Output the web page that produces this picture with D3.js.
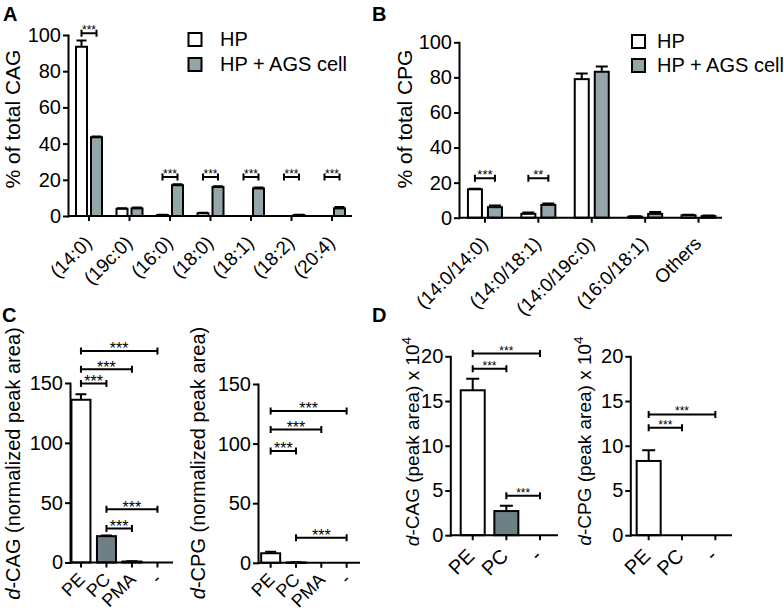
<!DOCTYPE html>
<html><head><meta charset="utf-8">
<script src="https://cdn.jsdelivr.net/npm/d3@7"></script>
<style>
body{margin:0;background:#fff}
svg text{font-family:"Liberation Sans",Arial,Helvetica,sans-serif;fill:#000}
</style>
</head><body><script>
// ---------------- DATA ----------------
const seriesNames = ["HP", "HP + AGS cell"];

// Panel A: % of total CAG
const catsA = ["(14:0)","(19c:0)","(16:0)","(18:0)","(18:1)","(18:2)","(20:4)"];
const hpA     = [93.5, 4.0, 0.5, 1.5, 0, 0, 0];
const hpAErr  = [3.5, 0.3, 0.2, 0.3, 0, 0, 0];
const agsA    = [43.5, 4.2, 17.0, 16.0, 15.2, 0.5, 4.2];
const agsAErr = [0.4, 0.5, 0.5, 0.4, 0.5, 0.2, 0.8];
const sigA    = ["***", "", "***", "***", "***", "***", "***"];
const sigAY   = [101, 0, 21.5, 21.5, 21.5, 21.5, 21.5];
const ticksA  = [0, 20, 40, 60, 80, 100];

// Panel B: % of total CPG
const catsB = ["(14:0/14:0)","(14:0/18:1)","(14:0/19c:0)","(16:0/18:1)","Others"];
const hpB     = [16.2, 2.2, 79.0, 0.6, 1.4];
const hpBErr  = [0.3, 0.7, 3.2, 0.2, 0.3];
const agsB    = [6.0, 7.3, 83.2, 2.2, 0.9];
const agsBErr = [1.0, 0.8, 3.0, 1.0, 0.3];
const sigB    = ["***", "**", "", "", ""];
const sigBY   = [22.5, 22.5, 0, 0, 0];
const ticksB  = [0, 20, 40, 60, 80, 100];

// Panel C: normalized peak area
const catsC   = ["PE", "PC", "PMA", "-"];
const cagC    = [136, 22, 0.8, 0];
const cagCErr = [4.5, 0.5, 0.2, 0];
const cpgC    = [8.0, 0.3, 0, 0];
const cpgCErr = [1.3, 0.1, 0, 0];
const sigCagC = [["PE","PC",149.5,"***"],["PE","PMA",161.5,"***"],["PE","-",176.8,"***"],["PC","PMA",28.5,"***"],["PC","-",44.4,"***"]];
const sigCpgC = [["PE","PC",93.8,"***"],["PE","PMA",111.8,"***"],["PE","-",127.4,"***"],["PC","-",21,"***"]];
const ticksC  = [0, 50, 100, 150];

// Panel D: peak area x 10^4
const catsD   = ["PE", "PC", "-"];
const cagD    = [16.2, 2.7, 0];
const cagDErr = [1.3, 0.6, 0];
const cpgD    = [8.3, 0, 0];
const cpgDErr = [1.2, 0, 0];
const sigCagD = [["PE","PC",18.6,"***"],["PE","-",20.3,"***"],["PC","-",4.4,"***"]];
const sigCpgD = [["PE","PC",12,"***"],["PE","-",13.5,"***"]];
const ticksD  = [0, 5, 10, 15, 20];

// ---------------- STYLE ----------------
const GRAY_AB = "#95a6aa";
const GRAY_CD = "#6e8085";
const SW = 2;

const svg = d3.select("body").append("svg").attr("width", 784).attr("height", 610);

function drawPanel(p) {
  const g = svg.append("g");
  const x = d3.scaleBand().domain(p.cats).range(p.band);
  const y = d3.scaleLinear().domain([0, p.ymax]).range([p.y0, p.yTop]);
  const cx = c => x(c) + x.bandwidth() / 2;

  // bars
  p.series.forEach(s => {
    const rows = p.cats.map((c, i) => ({c, v: s.vals[i], e: s.errs[i],
      fill: Array.isArray(s.fill) ? s.fill[i] : s.fill}));
    g.selectAll(null).data(rows.filter(d => d.v > 0)).enter().append("rect")
      .attr("x", d => cx(d.c) + s.off - p.barW / 2)
      .attr("y", d => y(d.v))
      .attr("width", p.barW)
      .attr("height", d => y(0) - y(d.v))
      .attr("fill", d => d.fill).attr("stroke", "#000").attr("stroke-width", SW);
    const er = rows.filter(d => d.e > 0);
    g.selectAll(null).data(er).enter().append("path")
      .attr("d", d => {
        const xx = cx(d.c) + s.off, y1 = y(d.v), y2 = y(d.v + d.e), hw = p.capW / 2;
        return `M${xx},${y1}V${y2}M${xx - hw},${y2}H${xx + hw}`;
      })
      .attr("stroke", "#000").attr("stroke-width", SW).attr("fill", "none");
  });

  // y axis
  const yg = g.append("g").attr("transform", `translate(${p.axisX},0)`)
    .call(d3.axisLeft(y).tickValues(p.ticks).tickSize(5).tickSizeOuter(0).tickPadding(2));
  yg.select(".domain").attr("stroke-width", SW).attr("stroke-linecap", "square");
  yg.selectAll(".tick line").attr("stroke-width", SW);
  yg.selectAll(".tick text").style("font-size", p.tickFont + "px").attr("font-family", null);

  // x axis
  const xg = g.append("g").attr("transform", `translate(0,${p.y0})`)
    .call(d3.axisBottom(x).tickSize(5).tickSizeOuter(0));
  xg.select(".domain").remove();
  xg.selectAll(".tick line").attr("stroke-width", SW);
  xg.selectAll(".tick text").attr("y", 0).attr("dy", 0)
    .attr("transform", `translate(${p.lx},${p.ly}) rotate(-45)`)
    .style("text-anchor", "end").style("font-size", p.xFont + "px");
  g.append("line").attr("x1", p.axisX).attr("x2", p.axisEnd)
    .attr("y1", p.y0).attr("y2", p.y0).attr("stroke", "#000").attr("stroke-width", SW);

  // significance brackets
  p.brackets.forEach(b => {
    const x1 = b.x1(cx), x2 = b.x2(cx), yy = y(b.y);
    g.append("path")
      .attr("d", `M${x1},${yy - 3.5}V${yy + 3.5}M${x1},${yy}H${x2}M${x2},${yy - 3.5}V${yy + 3.5}`)
      .attr("stroke", "#000").attr("stroke-width", SW).attr("fill", "none");
    g.append("text").attr("x", (x1 + x2) / 2).attr("y", yy + p.starDy)
      .attr("text-anchor", "middle").style("font-size", p.starFont + "px").text(b.label);
  });

  // y label
  const t = g.append("text").attr("transform", `translate(${p.ylx},${p.yly}) rotate(-90)`)
    .attr("text-anchor", "middle").style("font-size", p.ylFont + "px");
  p.ylabel.forEach(part => {
    const ts = t.append("tspan").text(part.t);
    if (part.it) ts.style("font-style", "italic");
    if (part.sup) ts.attr("dy", "-0.6em").style("font-size", "0.72em");
  });
  return {x, y};
}

function groupedBrackets(cats, sig, sigY, off) {
  return cats.map((c, i) => ({label: sig[i], y: sigY[i],
    x1: cx => cx(c) - off, x2: cx => cx(c) + off})).filter(b => b.label);
}
function pairBrackets(list) {
  return list.map(([a, b, yv, lab]) => ({label: lab, y: yv, x1: cx => cx(a), x2: cx => cx(b)}));
}

// Panel A
drawPanel({
  cats: catsA, band: [68.75, 352.25], axisX: 68, axisEnd: 352, y0: 216, yTop: 35, ymax: 100,
  ticks: ticksA, barW: 11, capW: 10, tickFont: 20, xFont: 19, lx: 4, ly: 28,
  series: [{vals: hpA, errs: hpAErr, fill: "#fff", off: -7.5},
           {vals: agsA, errs: agsAErr, fill: GRAY_AB, off: 7.5}],
  brackets: groupedBrackets(catsA, sigA, sigAY, 7.5), starFont: 12, starDy: 1,
  ylabel: [{t: "% of total CAG"}], ylx: 20, yly: 119, ylFont: 21
});

// Panel B
drawPanel({
  cats: catsB, band: [458.25, 725.25], axisX: 459, axisEnd: 722, y0: 217.7, yTop: 42.3, ymax: 100,
  ticks: ticksB, barW: 14, capW: 12, tickFont: 20, xFont: 19, lx: 4, ly: 27,
  series: [{vals: hpB, errs: hpBErr, fill: "#fff", off: -10},
           {vals: agsB, errs: agsBErr, fill: GRAY_AB, off: 10}],
  brackets: groupedBrackets(catsB, sigB, sigBY, 10), starFont: 13, starDy: 1,
  ylabel: [{t: "% of total CPG"}], ylx: 412, yly: 119, ylFont: 21
});

// Panel C left
drawPanel({
  cats: catsC, band: [68.2, 170.2], axisX: 70, axisEnd: 173, y0: 562.5, yTop: 383, ymax: 150,
  ticks: ticksC, barW: 19, capW: 11, tickFont: 20, xFont: 18, lx: 5, ly: 18,
  series: [{vals: cagC, errs: cagCErr, fill: ["#fff", GRAY_CD, GRAY_CD, GRAY_CD], off: 0}],
  brackets: pairBrackets(sigCagC), starFont: 16, starDy: 3.5,
  ylabel: [{t: "d", it: true}, {t: "-CAG (normalized peak area)"}], ylx: 20, yly: 463.5, ylFont: 20
});

// Panel C right
drawPanel({
  cats: catsC, band: [258, 359.3], axisX: 258, axisEnd: 360, y0: 562.8, yTop: 384, ymax: 150,
  ticks: ticksC, barW: 19, capW: 11, tickFont: 20, xFont: 18, lx: 5, ly: 18,
  series: [{vals: cpgC, errs: cpgCErr, fill: ["#fff", GRAY_CD, GRAY_CD, GRAY_CD], off: 0}],
  brackets: pairBrackets(sigCpgC), starFont: 16, starDy: 3.5,
  ylabel: [{t: "d", it: true}, {t: "-CPG (normalized peak area)"}], ylx: 205, yly: 463, ylFont: 20
});

// Panel D left
drawPanel({
  cats: catsD, band: [455.9, 556.8], axisX: 450.3, axisEnd: 558, y0: 535.2, yTop: 356.3, ymax: 20,
  ticks: ticksD, barW: 24, capW: 13, tickFont: 20, xFont: 20, lx: 3, ly: 22,
  series: [{vals: cagD, errs: cagDErr, fill: ["#fff", GRAY_CD, GRAY_CD], off: 0}],
  brackets: pairBrackets(sigCagD), starFont: 12, starDy: 1,
  ylabel: [{t: "d", it: true}, {t: "-CAG (peak area) x 10"}, {t: "4", sup: true}], ylx: 419, yly: 441.5, ylFont: 19
});

// Panel D right
drawPanel({
  cats: catsD, band: [632, 732], axisX: 630.3, axisEnd: 732, y0: 535.2, yTop: 356.3, ymax: 20,
  ticks: ticksD, barW: 24, capW: 13, tickFont: 20, xFont: 20, lx: 3, ly: 22,
  series: [{vals: cpgD, errs: cpgDErr, fill: ["#fff", GRAY_CD, GRAY_CD], off: 0}],
  brackets: pairBrackets(sigCpgD), starFont: 12, starDy: 1,
  ylabel: [{t: "d", it: true}, {t: "-CPG (peak area) x 10"}, {t: "4", sup: true}], ylx: 591, yly: 441, ylFont: 19
});

// Legends
function legend(x0, yRows, textX) {
  const fills = ["#fff", GRAY_AB];
  seriesNames.forEach((n, i) => {
    svg.append("rect").attr("x", x0).attr("y", yRows[i] - 13).attr("width", 13).attr("height", 13)
      .attr("fill", fills[i]).attr("stroke", "#000").attr("stroke-width", SW);
    svg.append("text").attr("x", textX).attr("y", yRows[i]).style("font-size", "20px").text(n);
  });
}
legend(188.5, [46, 71], 220);
legend(632, [48, 72], 657);

// Panel letters
[["A", 3, 21], ["B", 372, 21], ["C", 2, 322], ["D", 372, 322]].forEach(([l, x, y]) =>
  svg.append("text").attr("x", x).attr("y", y).style("font-size", "20px").style("font-weight", "bold").text(l));
</script></body></html>
